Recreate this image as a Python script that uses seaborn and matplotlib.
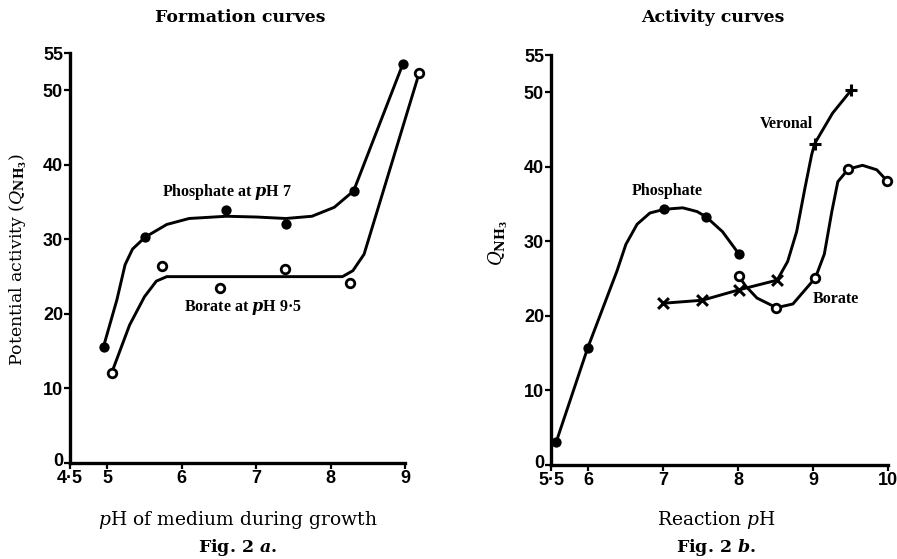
import matplotlib
matplotlib.use("Agg")
import matplotlib.pyplot as plt
import matplotlib.transforms as mtransforms
import seaborn as sns

# ---------------- Fig. 2a : Formation curves ----------------
form_phos_x = [4.95, 5.51, 6.60, 7.40, 8.31, 8.97]
form_phos_y = [15.6, 30.3, 34.0, 32.1, 36.5, 53.5]
form_bor_x = [5.06, 5.74, 6.51, 7.39, 8.26, 9.19]
form_bor_y = [12.1, 26.4, 23.5, 26.0, 24.1, 52.3]
# hand-drawn fitted curves
form_phos_curve_x = [4.95, 5.13, 5.24, 5.34, 5.51, 5.80, 6.10, 6.60, 7.00, 7.40, 7.75, 8.05, 8.31, 8.97]
form_phos_curve_y = [15.6, 21.9, 26.6, 28.7, 30.3, 32.0, 32.8, 33.1, 33.0, 32.8, 33.1, 34.3, 36.5, 53.5]
form_bor_curve_x = [5.06, 5.15, 5.30, 5.50, 5.66, 5.80, 7.00, 8.16, 8.30, 8.45, 9.19]
form_bor_curve_y = [12.1, 14.5, 18.5, 22.3, 24.4, 25.0, 25.0, 25.0, 25.8, 28.0, 52.3]
form_xticks = [4.5, 5, 6, 7, 8, 9]
form_xticklabels = ["4·5", "5", "6", "7", "8", "9"]

# ---------------- Fig. 2b : Activity curves ----------------
act_phos_x = [5.57, 5.99, 7.01, 7.57, 8.01]
act_phos_y = [3.1, 15.7, 34.3, 33.3, 28.3]
act_bor_x = [8.01, 8.51, 9.03, 9.47, 9.99]
act_bor_y = [25.3, 21.1, 25.1, 39.7, 38.1]
act_ver_x = [7.00, 7.52, 8.01, 8.52, 9.02, 9.51]
act_ver_y = [21.7, 22.1, 23.5, 24.8, 43.1, 50.3]
act_phos_curve_x = [5.57, 5.99, 6.38, 6.50, 6.65, 6.82, 7.01, 7.26, 7.45, 7.57, 7.79, 8.01]
act_phos_curve_y = [3.1, 15.7, 26.0, 29.6, 32.3, 33.8, 34.3, 34.5, 34.0, 33.3, 31.3, 28.3]
act_bor_curve_x = [8.01, 8.10, 8.25, 8.51, 8.73, 9.03, 9.15, 9.25, 9.33, 9.47, 9.66, 9.85, 9.99]
act_bor_curve_y = [25.3, 24.0, 22.4, 21.1, 21.6, 25.1, 28.3, 34.0, 38.0, 39.7, 40.2, 39.6, 38.1]
act_ver_curve_x = [7.00, 7.52, 8.01, 8.52, 8.66, 8.78, 8.89, 8.98, 9.02, 9.26, 9.51]
act_ver_curve_y = [21.7, 22.1, 23.5, 24.8, 27.3, 31.3, 37.1, 41.6, 43.1, 47.2, 50.3]
act_ver_markers = ["x", "x", "x", "x", "+", "+"]
act_xticks = [5.5, 6, 7, 8, 9, 10]
act_xticklabels = ["5·5", "6", "7", "8", "9", "10"]

yticks = [0, 10, 20, 30, 40, 50, 55]

sns.set_style("ticks")
plt.rcParams["font.family"] = ["DejaVu Serif"]
plt.rcParams["text.color"] = "black"
plt.rcParams["axes.labelcolor"] = "black"
plt.rcParams["xtick.color"] = "black"
plt.rcParams["ytick.color"] = "black"
plt.rcParams["axes.edgecolor"] = "black"
plt.rcParams["mathtext.fontset"] = "custom"
plt.rcParams["mathtext.rm"] = "DejaVu Serif"
plt.rcParams["mathtext.it"] = "DejaVu Serif:italic"
plt.rcParams["mathtext.bf"] = "DejaVu Serif:bold"
plt.rcParams["mathtext.bfit"] = "DejaVu Serif:italic:bold"

W, H = 897, 559
fig = plt.figure(figsize=(W / 100, H / 100), dpi=100)
fig.patch.set_facecolor("white")

tickfont = dict(family=["Liberation Sans", "DejaVu Sans"], weight="bold", size=13,
                color="black")
annfont = dict(family=["Liberation Serif", "DejaVu Serif"], weight="bold", fontsize=11.5,
               color="black")
LW = 2.1


def style_axes(ax, xlim, xticks, xticklabels):
    ax.set_xlim(*xlim)
    ax.set_ylim(0, 55)
    ax.set_facecolor("white")
    sns.despine(ax=ax)
    for s in ("left", "bottom"):
        ax.spines[s].set_linewidth(2.4)
        ax.spines[s].set_color("black")
    ax.set_xticks(xticks)
    ax.set_xticklabels(xticklabels, fontdict=tickfont)
    ax.set_yticks(yticks)
    ax.set_yticklabels([str(v) for v in yticks], fontdict=tickfont)
    ax.tick_params(axis="both", length=4, width=1.6, color="black")
    ax.tick_params(axis="x", pad=1)
    ax.tick_params(axis="y", pad=1)
    ax.set_xlabel("")
    ax.set_ylabel("")
    # nudge the "0" label upward a little so it clears the first x label
    lab0 = ax.get_yticklabels()[0]
    lab0.set_transform(lab0.get_transform() +
                       mtransforms.ScaledTranslation(0, 4 / 100, fig.dpi_scale_trans))


def draw_curve(ax, xs, ys):
    sns.lineplot(x=xs, y=ys, sort=False, estimator=None, color="black",
                 lw=LW, ax=ax, legend=False)


# ---------- left panel ----------
ax1 = fig.add_axes([70 / W, (H - 463) / H, 335 / W, 410 / H])
draw_curve(ax1, form_phos_curve_x, form_phos_curve_y)
draw_curve(ax1, form_bor_curve_x, form_bor_curve_y)
sns.scatterplot(x=form_phos_x, y=form_phos_y, marker="o", s=55, color="black",
                edgecolor="black", linewidth=0, ax=ax1, zorder=5, legend=False)
sns.scatterplot(x=form_bor_x, y=form_bor_y, marker="o", s=38, color="white",
                edgecolor="black", linewidth=2.0, ax=ax1, zorder=5, legend=False)
style_axes(ax1, (4.5, 9.0), form_xticks, form_xticklabels)
ax1.text(6.61, 36.4, r"Phosphate at $\mathbfit{p}$H 7", ha="center", va="center", **annfont)
ax1.text(6.82, 20.9, r"Borate at $\mathbfit{p}$H 9·5", ha="center", va="center", **annfont)

# ---------- right panel ----------
ax2 = fig.add_axes([551 / W, (H - 465) / H, 337 / W, 410 / H])
draw_curve(ax2, act_phos_curve_x, act_phos_curve_y)
draw_curve(ax2, act_bor_curve_x, act_bor_curve_y)
draw_curve(ax2, act_ver_curve_x, act_ver_curve_y)
sns.scatterplot(x=act_phos_x, y=act_phos_y, marker="o", s=55, color="black",
                edgecolor="black", linewidth=0, ax=ax2, zorder=5, legend=False)
sns.scatterplot(x=act_bor_x, y=act_bor_y, marker="o", s=38, color="white",
                edgecolor="black", linewidth=2.0, ax=ax2, zorder=5, legend=False)
for m in ("x", "+"):
    xs = [x for x, mm in zip(act_ver_x, act_ver_markers) if mm == m]
    ys = [y for y, mm in zip(act_ver_y, act_ver_markers) if mm == m]
    sns.scatterplot(x=xs, y=ys, marker=m, s=75 if m == "+" else 60, color="black",
                    linewidth=2.2, ax=ax2, zorder=5, legend=False)
style_axes(ax2, (5.5, 10.0), act_xticks, act_xticklabels)
ax2.text(7.05, 36.7, "Phosphate", ha="center", va="center", **annfont)
ax2.text(8.64, 45.8, "Veronal", ha="center", va="center", **annfont)
ax2.text(9.30, 22.3, "Borate", ha="center", va="center", **annfont)

for ax in (ax1, ax2):
    for art in list(ax.lines) + list(ax.collections):
        art.set_clip_on(False)

# ---------- figure texts ----------
fig.text(240 / W, 1 - 17 / H, "Formation curves", ha="center", va="center",
         weight="bold", fontsize=12.5)
fig.text(713 / W, 1 - 18 / H, "Activity curves", ha="center", va="center",
         weight="bold", fontsize=12.5)
fig.text(238 / W, 1 - 520 / H, r"$p$H of medium during growth", ha="center",
         va="center", fontsize=13.5)
fig.text(238 / W, 1 - 547 / H, r"Fig. 2 $\mathbfit{a}$.", ha="center", va="center",
         weight="bold", fontsize=12.5)
fig.text(716 / W, 1 - 520 / H, r"Reaction $p$H", ha="center", va="center",
         fontsize=13.5)
fig.text(716 / W, 1 - 547 / H, r"Fig. 2 $\mathbfit{b}$.", ha="center", va="center",
         weight="bold", fontsize=12.5)
fig.text(18 / W, 1 - 260 / H, r"Potential activity ($Q_{\mathbf{NH_3}}$)",
         ha="center", va="center", rotation=90, fontsize=12.5)
fig.text(498 / W, 1 - 243 / H, r"$Q_{\mathbf{NH_3}}$",
         ha="center", va="center", rotation=90, fontsize=13)

fig.savefig("out.png", dpi=100, facecolor="white")
